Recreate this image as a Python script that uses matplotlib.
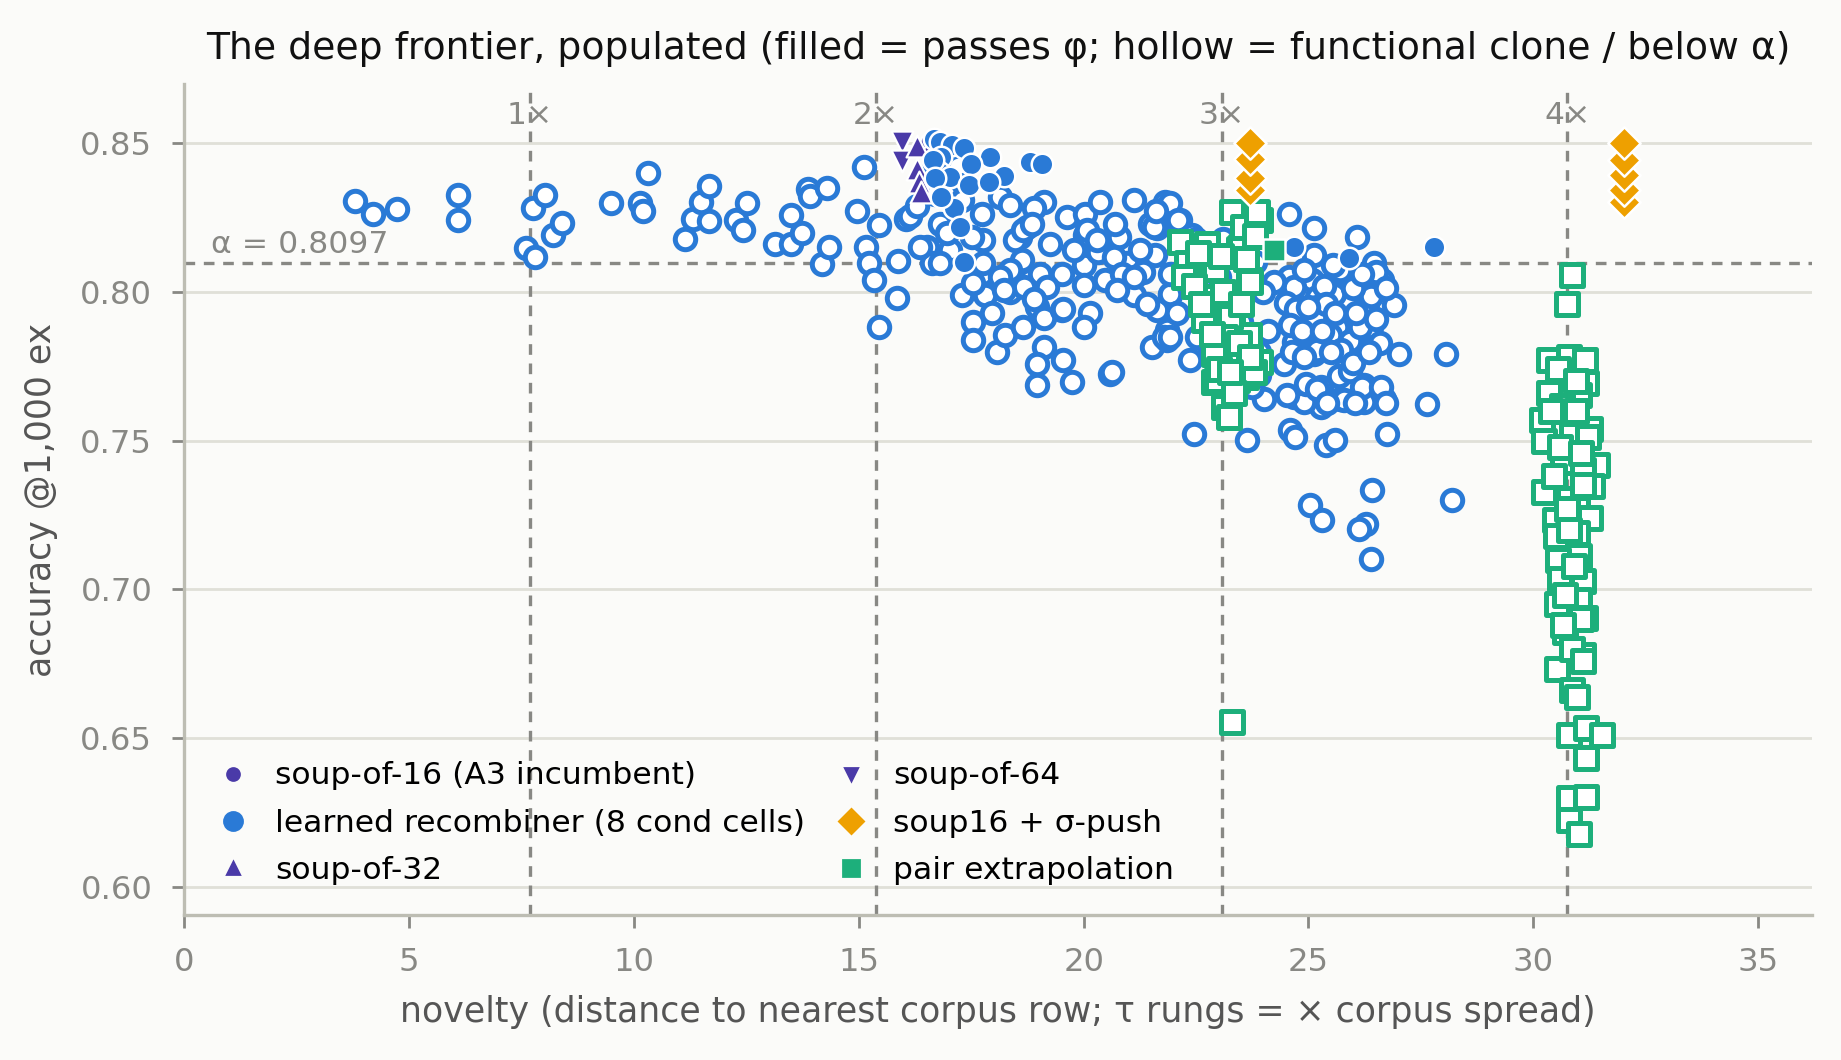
import numpy as np
import matplotlib
matplotlib.use("Agg")
import matplotlib.pyplot as plt
from matplotlib.lines import Line2D

# ---- data ----
tau = 7.69          # corpus spread (one rung)
alpha = 0.8097

learned_hollow = [
    (3.79, 0.8306), (4.20, 0.8263), (4.73, 0.8279), (6.09, 0.8326), (6.09, 0.8243),
    (7.60, 0.8148), (7.76, 0.8283), (7.81, 0.8117), (8.02, 0.8326), (8.20, 0.8192),
    (8.41, 0.8231), (9.50, 0.8298), (10.13, 0.8298), (10.21, 0.8271), (10.32, 0.8401),
    (11.13, 0.8180), (11.31, 0.8247), (11.50, 0.8302), (11.67, 0.8358), (11.67, 0.8239),
    (12.27, 0.8243), (12.43, 0.8208), (12.51, 0.8298), (13.14, 0.8160), (13.50, 0.8259),
    (13.50, 0.8160), (13.74, 0.8200), (13.87, 0.8346), (13.92, 0.8322), (14.18, 0.8093),
    (14.29, 0.8350), (14.34, 0.8152), (14.96, 0.8271), (15.12, 0.8421), (15.15, 0.8152),
    (15.23, 0.8097), (15.33, 0.8042), (15.46, 0.8224), (15.46, 0.7884), (15.85, 0.7979),
    (15.88, 0.8105), (16.06, 0.8247),
    (16.14, 0.8255), (16.81, 0.8230), (16.51, 0.8152), (16.62, 0.8096), (17.03, 0.8141),
    (17.74, 0.8264), (17.77, 0.8174), (17.51, 0.8186), (18.14, 0.8320), (18.37, 0.8292),
    (17.74, 0.8062), (17.29, 0.7989), (17.81, 0.7989), (17.55, 0.7900), (17.55, 0.7838),
    (18.07, 0.7799), (18.26, 0.7854), (18.66, 0.7883), (19.11, 0.8303), (18.89, 0.8281),
    (18.74, 0.8219), (18.59, 0.8186), (18.63, 0.8107), (18.37, 0.8000), (18.81, 0.8040),
    (19.26, 0.8163), (19.03, 0.8062), (18.96, 0.7950), (19.11, 0.7911), (19.63, 0.8253),
    (20.04, 0.8264), (20.04, 0.8191), (20.37, 0.8303), (19.52, 0.8062), (20.00, 0.8090),
    (20.00, 0.8022), (19.52, 0.7939), (20.15, 0.7928), (20.00, 0.7883), (20.37, 0.8141),
    (20.48, 0.8040), (20.78, 0.8186), (20.70, 0.8230), (21.11, 0.8309), (20.96, 0.8096),
    (21.11, 0.7989), (21.33, 0.8068), (21.59, 0.8124), (21.63, 0.8214), (21.82, 0.8303),
    (21.48, 0.8230), (21.92, 0.7989), (21.63, 0.7939), (21.85, 0.7872), (21.52, 0.7815),
    (19.11, 0.7815), (19.55, 0.7770), (18.96, 0.7759), (18.96, 0.7686), (19.74, 0.7698),
    (20.59, 0.7726), (20.62, 0.7730), (21.85, 0.7838), (18.67, 0.8017), (20.33, 0.8135),
    (19.55, 0.7944), (21.56, 0.8219), (22.15, 0.8241), (21.93, 0.7995), (22.08, 0.7928),
    (21.78, 0.7849), (22.37, 0.7771), (16.62, 0.8480), (16.70, 0.8430), (16.62, 0.8370),
    (16.70, 0.8330), (16.30, 0.8290),
    (18.48, 0.8174), (18.66, 0.8208), (18.85, 0.8230), (18.37, 0.8073), (19.18, 0.8017),
    (18.89, 0.7978), (18.14, 0.8051), (18.22, 0.8006), (20.07, 0.8208), (20.30, 0.8174),
    (19.78, 0.8141), (20.67, 0.8118), (20.85, 0.8062), (21.26, 0.8141), (20.74, 0.8006),
    (21.11, 0.8051), (21.41, 0.7961), (21.93, 0.8062), (16.81, 0.8096), (16.36, 0.8152),
    (16.96, 0.8197), (17.77, 0.8096), (17.55, 0.8029), (17.96, 0.7928),
    (16.90, 0.8465), (17.20, 0.8425), (16.95, 0.8330), (17.30, 0.8310),
    (21.93, 0.8298), (24.56, 0.8264), (25.12, 0.8214), (26.08, 0.8185), (25.12, 0.8124),
    (26.45, 0.8096), (25.79, 0.8062), (26.64, 0.8040), (25.08, 0.8040), (24.56, 0.8051),
    (24.60, 0.7995), (25.19, 0.7984), (25.86, 0.7973), (26.30, 0.7961), (26.90, 0.7956),
    (24.75, 0.7905), (25.19, 0.7922), (25.75, 0.7894), (26.38, 0.7883), (24.67, 0.7832),
    (25.12, 0.7793), (26.16, 0.7810), (25.86, 0.7759), (27.01, 0.7793), (28.05, 0.7793),
    (24.45, 0.7759), (25.27, 0.7681), (26.23, 0.7686), (24.01, 0.7641), (24.67, 0.7647),
    (25.71, 0.7641), (26.68, 0.7641), (27.64, 0.7625), (21.93, 0.7849), (22.52, 0.7849),
    (22.45, 0.7524), (23.64, 0.7501), (24.60, 0.7535), (24.71, 0.7513), (25.38, 0.7485),
    (25.60, 0.7501), (26.75, 0.7524), (25.04, 0.7283), (25.30, 0.7232), (26.42, 0.7333),
    (26.27, 0.7221), (26.12, 0.7204), (26.38, 0.7103), (28.20, 0.7300), (25.79, 0.7636),
    (26.23, 0.7630), (25.27, 0.7614), (24.90, 0.7630), (24.52, 0.7653),
    (24.67, 0.8017), (25.56, 0.7995), (25.19, 0.7950), (25.04, 0.7860), (25.71, 0.8073),
    (24.67, 0.7917), (25.64, 0.7883), (25.19, 0.7804),
    (24.24, 0.8034), (24.50, 0.7963), (24.63, 0.7797), (24.94, 0.7690), (25.20, 0.7675),
    (25.67, 0.7718), (25.93, 0.7734), (26.20, 0.7680), (26.61, 0.7680), (26.72, 0.7627),
    (26.04, 0.7627), (25.41, 0.7627), (25.49, 0.7856), (25.15, 0.7915), (25.93, 0.7837),
    (26.27, 0.7947), (26.40, 0.7987), (26.51, 0.8066), (26.72, 0.8014), (26.14, 0.7884),
    (25.72, 0.7805), (24.73, 0.7943), (24.58, 0.7888), (23.90, 0.7797), (23.74, 0.7679),
    (21.62, 0.8271), (22.09, 0.8243), (22.40, 0.8192),
    (24.90, 0.8075), (25.35, 0.8020), (25.55, 0.8090), (26.00, 0.8015), (26.20, 0.8060),
    (25.40, 0.7960), (25.00, 0.7950), (26.05, 0.7930), (25.60, 0.7930), (24.85, 0.7870),
    (25.30, 0.7870), (26.50, 0.7910), (26.60, 0.7830), (25.50, 0.7800), (24.90, 0.7780),
    (26.00, 0.7760), (26.35, 0.7800),
    (22.60, 0.8120), (23.00, 0.8050), (23.40, 0.7980), (23.20, 0.7860), (22.80, 0.7800),
    (23.50, 0.7900), (23.80, 0.8100), (23.10, 0.8180), (22.50, 0.8180), (24.00, 0.8000),
    (24.10, 0.7870), (23.90, 0.7720),
]

learned_filled = [
    (16.68, 0.8515), (16.80, 0.8505), (17.07, 0.8494), (17.35, 0.8483), (17.92, 0.8455),
    (16.82, 0.8455), (17.50, 0.8432), (18.22, 0.8390), (16.78, 0.8404), (17.03, 0.8387),
    (17.46, 0.8359), (17.89, 0.8371), (17.11, 0.8281), (17.24, 0.8219), (17.33, 0.8101),
    (18.81, 0.8438), (19.07, 0.8432), (16.66, 0.8445), (16.70, 0.8385), (16.82, 0.8320),
    (24.67, 0.8152), (25.90, 0.8113), (27.79, 0.8152),
]

soup16 = [(16.55, 0.8505), (16.60, 0.8470)]
soup32 = [(16.30, 0.8490), (16.30, 0.8415), (16.33, 0.8370), (16.38, 0.8335)]
soup64 = [(15.96, 0.8505), (15.96, 0.8440)]

sigma_push = [
    (23.70, 0.8343), (23.70, 0.8382), (23.70, 0.8449), (23.70, 0.8500),
    (32.02, 0.8303), (32.02, 0.8343), (32.02, 0.8393), (32.02, 0.8443), (32.02, 0.8500),
]

pair_hollow = [
    (23.30, 0.8270), (23.93, 0.8241), (22.15, 0.8169), (22.75, 0.8163), (23.45, 0.8146),
    (22.30, 0.8096), (22.89, 0.8085), (23.67, 0.8040), (22.23, 0.8051), (22.82, 0.7984),
    (23.30, 0.7911), (22.75, 0.7917), (23.67, 0.7855), (23.30, 0.7770), (23.93, 0.7765),
    (22.89, 0.7697), (23.60, 0.7714), (23.12, 0.7614), (23.23, 0.7580), (22.97, 0.7703),
    (23.41, 0.7703), (23.19, 0.7782), (23.26, 0.7916), (22.67, 0.7905), (22.93, 0.8079),
    (23.49, 0.8152), (23.71, 0.8034), (23.78, 0.7731), (22.55, 0.8130), (22.45, 0.8020),
    (23.05, 0.8120), (23.55, 0.8220), (23.80, 0.8190), (23.10, 0.8000), (22.60, 0.7960),
    (23.50, 0.7960), (23.15, 0.7850), (22.90, 0.7790), (23.45, 0.7830), (23.70, 0.7780),
    (23.00, 0.7740), (23.35, 0.7660), (23.25, 0.7730), (22.85, 0.7860), (23.85, 0.8270),
    (23.60, 0.8110), (23.30, 0.6553),
    (30.85, 0.8058), (30.74, 0.7960),
    (30.36, 0.7771), (30.79, 0.7783), (31.14, 0.7771), (31.18, 0.7695), (30.36, 0.7659),
    (31.02, 0.7653), (30.63, 0.7618), (30.20, 0.7571), (31.26, 0.7541), (30.24, 0.7500),
    (30.87, 0.7518), (31.22, 0.7512), (31.41, 0.7417), (30.67, 0.7429), (31.10, 0.7400),
    (31.30, 0.7347), (30.24, 0.7329), (30.79, 0.7305), (30.98, 0.7270), (31.26, 0.7241),
    (30.48, 0.7235), (30.98, 0.7188), (30.59, 0.7164), (31.02, 0.7111), (30.55, 0.7099),
    (31.10, 0.7028), (30.59, 0.7034), (30.52, 0.6952), (31.02, 0.6963), (31.14, 0.6904),
    (30.71, 0.6857), (31.10, 0.6781), (30.52, 0.6733), (30.87, 0.6663), (30.98, 0.6639),
    (30.79, 0.6509), (31.18, 0.6533), (31.53, 0.6509), (31.18, 0.6433), (30.79, 0.6297),
    (31.18, 0.6303), (30.79, 0.6226), (31.02, 0.6179),
    (30.55, 0.7740), (30.95, 0.7600), (30.60, 0.7480), (31.05, 0.7460), (30.45, 0.7380),
    (31.10, 0.7350), (30.75, 0.7270), (30.50, 0.7180), (30.90, 0.7080), (31.05, 0.6900),
    (30.70, 0.6980), (30.85, 0.6800), (30.65, 0.6880), (31.10, 0.6760), (30.80, 0.7200),
    (30.40, 0.7600), (30.95, 0.7700),
]
pair_filled = [(24.23, 0.8141)]

rung_labels = ["1×", "2×", "3×", "4×"]

# ---- colours ----
bg = "#fbfbf9"
c_blue = "#2a7ad6"
c_purple = "#4a3aa8"
c_orange = "#eea000"
c_green = "#1daf7b"
c_ref = "#888884"


def xy(pts):
    a = np.array(pts)
    return a[:, 0], a[:, 1]


fig = plt.figure(figsize=(9.205, 5.30), dpi=200, facecolor=bg)
ax = fig.add_axes([0.1001, 0.1368, 0.8842, 0.7835], facecolor=bg)

ax.set_xlim(0, 36.2)
ax.set_ylim(0.5905, 0.8698)

ax.yaxis.grid(True, color="#e0e0d8", lw=1.0, zorder=0)
ax.set_axisbelow(True)

# reference lines
for k, lab in enumerate(rung_labels, start=1):
    ax.axvline(k * tau, color=c_ref, lw=1.2, ls=(0, (3.2, 2.6)), zorder=1)
    ax.text(k * tau, 0.8595, lab, ha="center", va="center", fontsize=11.3, color=c_ref)
ax.axhline(alpha, color=c_ref, lw=1.2, ls=(0, (3.2, 2.6)), zorder=1)
ax.text(0.6, alpha + 0.0015, "α = %.4f" % alpha, ha="left", va="bottom",
        fontsize=11.3, color=c_ref)

# points
x, y = xy(learned_hollow)
ax.scatter(x, y, s=54, marker="o", facecolors="white", edgecolors=c_blue, linewidths=1.8, zorder=3)

x, y = xy(soup16)
ax.scatter(x, y, s=34, marker="o", c=c_purple, edgecolors="white", linewidths=0.8, zorder=4)
x, y = xy(soup64)
ax.scatter(x, y, s=62, marker="v", c=c_purple, edgecolors="white", linewidths=0.8, zorder=4)
x, y = xy(soup32)
ax.scatter(x, y, s=62, marker="^", c=c_purple, edgecolors="white", linewidths=0.8, zorder=4)

x, y = xy(learned_filled)
ax.scatter(x, y, s=60, marker="o", c=c_blue, edgecolors="white", linewidths=0.9, zorder=5)

x, y = xy(pair_hollow)
ax.scatter(x, y, s=60, marker="s", facecolors="white", edgecolors=c_green, linewidths=1.8, zorder=6)
x, y = xy(pair_filled)
ax.scatter(x, y, s=60, marker="s", c=c_green, edgecolors="white", linewidths=0.9, zorder=7)

x, y = xy(sigma_push)
ax.scatter(x, y, s=68, marker="D", c=c_orange, edgecolors="white", linewidths=0.9, zorder=8)

# axes styling
for side in ("top", "right"):
    ax.spines[side].set_visible(False)
for side in ("left", "bottom"):
    ax.spines[side].set_color("#bdbdb3")
    ax.spines[side].set_linewidth(1.2)
ax.tick_params(axis="both", length=4.5, width=1.0, color="#888884",
               labelcolor="#888884", labelsize=11.6, pad=7)
ax.set_xticks([0, 5, 10, 15, 20, 25, 30, 35])
ax.set_yticks([0.60, 0.65, 0.70, 0.75, 0.80, 0.85])
ax.set_yticklabels(["0.60", "0.65", "0.70", "0.75", "0.80", "0.85"])

ax.set_xlabel("novelty (distance to nearest corpus row; τ rungs = × corpus spread)",
              fontsize=12.5, color="#555555", labelpad=6)
ax.set_ylabel("accuracy @1,000 ex", fontsize=12.5, color="#555555", labelpad=8)
ax.set_title("The deep frontier, populated (filled = passes φ; hollow = functional clone / below α)",
             fontsize=13.6, color="#111111", pad=9)

handles = [
    Line2D([], [], ls="none", marker="o", ms=4.3, color=c_purple),
    Line2D([], [], ls="none", marker="o", ms=6.5, color=c_blue),
    Line2D([], [], ls="none", marker="^", ms=4.5, color=c_purple),
    Line2D([], [], ls="none", marker="v", ms=4.5, color=c_purple),
    Line2D([], [], ls="none", marker="D", ms=6.0, color=c_orange),
    Line2D([], [], ls="none", marker="s", ms=5.5, color=c_green),
]
labels = ["soup-of-16 (A3 incumbent)", "learned recombiner (8 cond cells)", "soup-of-32",
          "soup-of-64", "soup16 + σ-push", "pair extrapolation"]
ax.legend(handles, labels, ncol=2, loc="lower left", frameon=False, fontsize=11.3,
          handlelength=1.2, handletextpad=0.75, columnspacing=0.84, labelspacing=0.58,
          borderaxespad=0.4, bbox_to_anchor=(0.003, 0.006))

fig.savefig("out.png", dpi=200, facecolor=bg)
